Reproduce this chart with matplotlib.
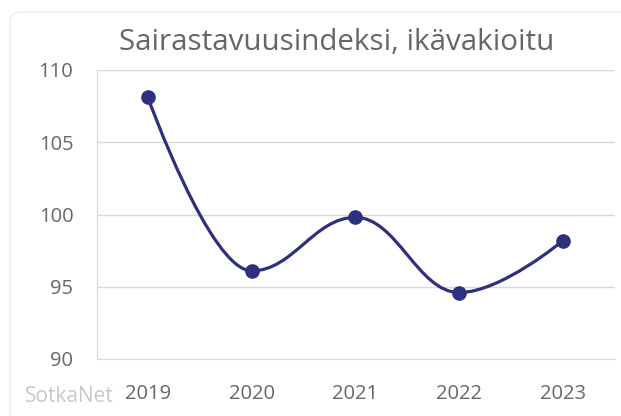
import numpy as np
import matplotlib.pyplot as plt
from matplotlib.path import Path
from matplotlib.patches import PathPatch, FancyBboxPatch

years = ["2019", "2020", "2021", "2022", "2023"]
index_values = [108.1, 96.1, 99.8, 94.6, 98.2]
y_ticks = [90, 95, 100, 105, 110]

LINE = "#2e2f7e"
GRID = "#d9d9d9"
TEXT = "#666666"


def spline_path(xs, ys, smoothing=1.5):
    # Highcharts-style spline: control points from neighbours, clamped at extremes
    n = len(xs)
    denom = smoothing + 1
    left = [(xs[i], ys[i]) for i in range(n)]
    right = [(xs[i], ys[i]) for i in range(n)]
    for i in range(1, n - 1):
        px, py = xs[i], ys[i]
        lx, ly = xs[i - 1], ys[i - 1]
        nx, ny = xs[i + 1], ys[i + 1]
        lcx = (smoothing * px + lx) / denom
        lcy = (smoothing * py + ly) / denom
        rcx = (smoothing * px + nx) / denom
        rcy = (smoothing * py + ny) / denom
        if rcx != lcx:
            corr = (rcy - lcy) * (rcx - px) / (rcx - lcx) + py - rcy
            lcy += corr
            rcy += corr
        if lcy > ly and lcy > py:
            lcy = max(ly, py)
            rcy = 2 * py - lcy
        elif lcy < ly and lcy < py:
            lcy = min(ly, py)
            rcy = 2 * py - lcy
        if rcy > ny and rcy > py:
            rcy = max(ny, py)
            lcy = 2 * py - rcy
        elif rcy < ny and rcy < py:
            rcy = min(ny, py)
            lcy = 2 * py - rcy
        left[i] = (lcx, lcy)
        right[i] = (rcx, rcy)
    verts = [(xs[0], ys[0])]
    codes = [Path.MOVETO]
    for i in range(1, n):
        verts += [right[i - 1], left[i], (xs[i], ys[i])]
        codes += [Path.CURVE4] * 3
    return Path(verts, codes)


fig = plt.figure(figsize=(6.21, 4.16), dpi=100)
card = FancyBboxPatch((10 / 621, -0.1), 1.2, 1.1 - 12 / 416,
                      boxstyle="round,pad=0,rounding_size=0.02",
                      transform=fig.transFigure, facecolor="white",
                      edgecolor="#ececec", linewidth=1, zorder=-5)
fig.patches.append(card)

ax = fig.add_axes([97 / 621, 1 - 359 / 416, (615 - 97) / 621, (359 - 70) / 416])
ax.set_facecolor("none")

x = np.arange(len(years))
ax.add_patch(PathPatch(spline_path(x, index_values), facecolor="none",
                       edgecolor=LINE, linewidth=2.3, zorder=3))
ax.plot(x, index_values, linestyle="none", marker="o", markersize=9.5,
        color=LINE, zorder=4)

ax.set_xlim(-0.49, 4.5)
ax.set_ylim(90, 110)
ax.set_yticks(y_ticks)
ax.set_xticks(x)
ax.set_xticklabels(years)
ax.grid(axis="y", color=GRID, linewidth=1)
ax.set_axisbelow(True)
for side in ["top", "right"]:
    ax.spines[side].set_visible(False)
ax.spines["left"].set_color(GRID)
ax.spines["bottom"].set_color(GRID)
ax.tick_params(length=0, labelsize=14.5, labelcolor=TEXT)
ax.tick_params(axis="y", pad=17)
ax.tick_params(axis="x", pad=18)
for lbl in ax.get_xticklabels() + ax.get_yticklabels():
    lbl.set_fontfamily("Open Sans")

fig.text(337 / 621, 1 - 43 / 416, "Sairastavuusindeksi, ikävakioitu",
         ha="center", va="center", fontsize=21.3, color=TEXT, family="Open Sans")
fig.text(25 / 621, 1 - 396 / 416, "SotkaNet", ha="left", va="center",
         fontsize=15, color="#c8c8c8", family="Open Sans")

fig.savefig("out.png", dpi=100)
